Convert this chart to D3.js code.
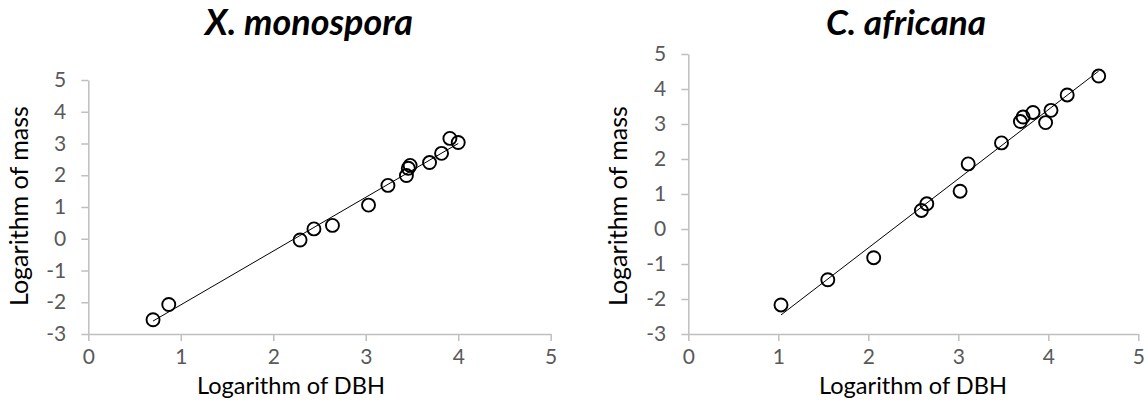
<!DOCTYPE html>
<html>
<head>
<meta charset="utf-8">
<script src="https://cdn.jsdelivr.net/npm/d3@7"></script>
<style>
  html, body { margin: 0; padding: 0; background: #fff; }
  svg { display: block; }
  text { font-family: Lato, "Open Sans", sans-serif; }
</style>
</head>
<body>
<svg id="chart" width="1148" height="405"></svg>
<script>
// Log-log allometry: log(mass) against log(DBH) for two species
const axisTicks = [-3, -2, -1, 0, 1, 2, 3, 4, 5];
const xTicks = [0, 1, 2, 3, 4, 5];

const xmTitle = "X. monospora";
const xmDbh  = [0.70, 0.87, 2.29, 2.44, 2.64, 3.03, 3.24, 3.44, 3.46, 3.48, 3.69, 3.82, 3.91, 4.00];
const xmMass = [-2.55, -2.07, -0.04, 0.31, 0.42, 1.06, 1.68, 1.99, 2.22, 2.31, 2.40, 2.69, 3.16, 3.03];

const caTitle = "C. africana";
const caDbh  = [1.03, 1.55, 2.06, 2.59, 2.65, 3.02, 3.11, 3.48, 3.69, 3.72, 3.83, 3.97, 4.03, 4.21, 4.56];
const caMass = [-2.17, -1.45, -0.82, 0.53, 0.72, 1.08, 1.86, 2.46, 3.07, 3.20, 3.33, 3.04, 3.39, 3.83, 4.37];

const xLabel = "Logarithm of DBH";
const yLabel = "Logarithm of mass";

const svg = d3.select("#chart");
const plain = d => String(d);   // integer labels with an ASCII hyphen for negatives

// scale text so that it spans a given width
function fitWidth(sel, w) {
  const len = sel.node().getComputedTextLength();
  const fs = parseFloat(sel.attr("font-size"));
  sel.attr("font-size", fs * w / len);
}

// least-squares line through the points
function fitLine(xs, ys) {
  const n = xs.length;
  const mx = d3.mean(xs), my = d3.mean(ys);
  let sxy = 0, sxx = 0;
  for (let i = 0; i < n; i++) { sxy += (xs[i] - mx) * (ys[i] - my); sxx += (xs[i] - mx) ** 2; }
  const b = sxy / sxx, a = my - b * mx;
  const x0 = d3.min(xs), x1 = d3.max(xs);
  return [[x0, a + b * x0], [x1, a + b * x1]];
}

function panel(cfg) {
  const g = svg.append("g");
  const x = d3.scaleLinear().domain([0, 5]).range([cfg.left, cfg.right]);
  const y = d3.scaleLinear().domain([-3, 5]).range([cfg.bottom, cfg.top]);

  const yAxis = g.append("g")
    .attr("transform", `translate(${x(0)},0)`)
    .call(d3.axisLeft(y).tickValues(axisTicks).tickFormat(plain)
      .tickSize(7).tickSizeOuter(0).tickPadding(15));
  const xAxis = g.append("g")
    .attr("transform", `translate(0,${y(-3)})`)
    .call(d3.axisBottom(x).tickValues(xTicks).tickFormat(plain)
      .tickSize(7).tickSizeOuter(0).tickPadding(9));

  [xAxis, yAxis].forEach(a => {
    a.select(".domain").attr("stroke", "#bfbfbf").attr("stroke-width", 1.5);
    a.selectAll(".tick line").attr("stroke", "#bfbfbf").attr("stroke-width", 1.5);
    a.selectAll(".tick text").attr("fill", "#595959")
      .attr("font-size", 21).attr("font-family", "Lato, sans-serif");
  });
  xAxis.selectAll(".tick text").attr("dy", "0.68em");

  // trend line
  const pts = fitLine(cfg.xs, cfg.ys);
  g.append("line")
    .attr("x1", x(pts[0][0])).attr("y1", y(pts[0][1]))
    .attr("x2", x(pts[1][0])).attr("y2", y(pts[1][1]))
    .attr("stroke", "#000").attr("stroke-width", 1);

  // observations
  g.selectAll("circle.pt").data(cfg.xs.map((d, i) => [d, cfg.ys[i]]))
    .enter().append("circle").attr("class", "pt")
    .attr("cx", d => x(d[0])).attr("cy", d => y(d[1])).attr("r", 6.5)
    .attr("fill", "none").attr("stroke", "#000").attr("stroke-width", 1.9);

  // titles
  const t = g.append("text").text(cfg.title)
    .attr("x", cfg.titleX).attr("y", 35).attr("text-anchor", "middle")
    .attr("font-weight", "bold").attr("font-style", "italic")
    .attr("font-size", 30).attr("fill", "#000");
  fitWidth(t, cfg.titleW);

  const xt = g.append("text").text(xLabel)
    .attr("x", cfg.xLabelX).attr("y", 394).attr("text-anchor", "middle")
    .attr("font-size", 22).attr("fill", "#000");
  fitWidth(xt, 188);

  const yt = g.append("text").text(yLabel)
    .attr("transform", `translate(${cfg.yLabelX},206) rotate(-90)`)
    .attr("text-anchor", "middle")
    .attr("font-size", 22).attr("fill", "#000");
  fitWidth(yt, 200);
}

panel({ left: 88.3, right: 550.7, top: 80, bottom: 334,
        xs: xmDbh, ys: xmMass, title: xmTitle, titleX: 309, titleW: 208,
        xLabelX: 291, yLabelX: 28 });
panel({ left: 688.3, right: 1138.3, top: 54, bottom: 334,
        xs: caDbh, ys: caMass, title: caTitle, titleX: 906, titleW: 160,
        xLabelX: 913, yLabelX: 627 });
</script>
</body>
</html>
